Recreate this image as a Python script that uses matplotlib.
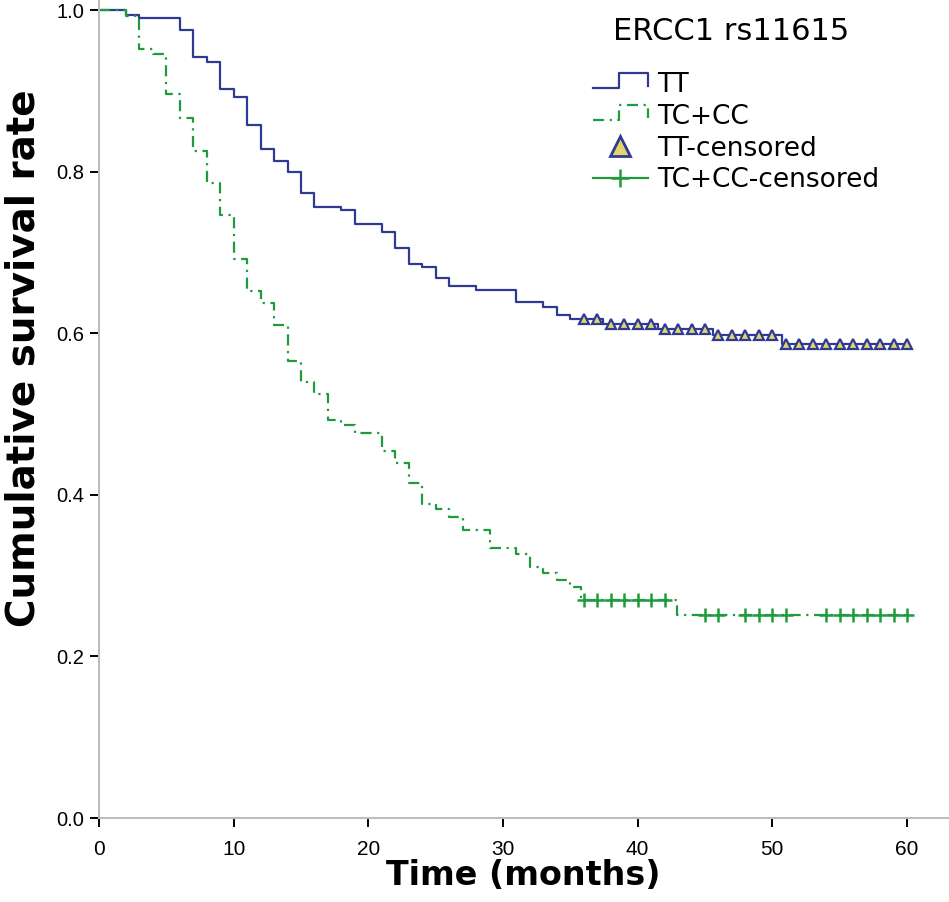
import numpy as np
import matplotlib
matplotlib.use("Agg")
import matplotlib.pyplot as plt
from matplotlib.lines import Line2D
from matplotlib.legend_handler import HandlerBase

# Kaplan-Meier steps (time in months, survival after the step)
tt_times = [0, 2, 3, 6, 7, 8, 9, 10, 11, 12, 13, 14, 15, 16, 18, 19, 21, 22, 23, 24,
            25, 26, 28, 31, 33, 34, 35, 37.4, 41.5, 45.6, 50.7, 60]
tt_surv = [1.0, 0.994, 0.990, 0.975, 0.942, 0.936, 0.902, 0.892, 0.858, 0.828, 0.813,
           0.799, 0.774, 0.756, 0.752, 0.735, 0.725, 0.706, 0.686, 0.682, 0.668, 0.658,
           0.653, 0.638, 0.633, 0.623, 0.618, 0.612, 0.605, 0.598, 0.587, 0.587]
tt_cens_times = list(range(36, 61))

tc_times = [0, 2, 3, 4, 5, 6, 7, 8, 9, 10, 11, 12, 13, 14, 15, 16, 17, 18, 19, 21, 22,
            23, 24, 25, 26, 27, 29, 31, 32, 33, 34, 35, 35.8, 42.9, 60]
tc_surv = [1.0, 0.992, 0.952, 0.946, 0.896, 0.866, 0.826, 0.786, 0.746, 0.692, 0.652,
           0.637, 0.610, 0.565, 0.540, 0.525, 0.493, 0.486, 0.477, 0.454, 0.439, 0.414,
           0.389, 0.382, 0.373, 0.357, 0.334, 0.327, 0.311, 0.303, 0.295, 0.286, 0.270,
           0.251, 0.251]
tc_cens_times = [36, 37, 38, 39, 40, 41, 42, 45, 46, 48, 49, 50, 51, 54, 55, 56, 57,
                 58, 59, 60]

x_ticks = [0, 10, 20, 30, 40, 50, 60]
y_ticks = [0.0, 0.2, 0.4, 0.6, 0.8, 1.0]
series_labels = ["TT", "TC+CC", "TT-censored", "TC+CC-censored"]

blue = "#2E3B95"
green = "#1F9A3C"
dashdot = (0, (5, 2.5, 1, 2.5))


def surv_at(times, surv, t):
    """value of the post-step curve at time t"""
    idx = np.searchsorted(times, t, side="right") - 1
    return surv[idx]


class StepGlyph(HandlerBase):
    # small stair-shaped legend key like the SPSS output
    def create_artists(self, legend, orig_handle, xdescent, ydescent,
                       width, height, fontsize, trans):
        xs = np.array([0.0, 0.47, 0.47, 1.0, 1.0]) * width - xdescent
        ys = np.array([0.23, 0.23, 1.04, 1.04, 0.32]) * height - ydescent
        glyph = Line2D(xs, ys)
        glyph.update_from(orig_handle)
        glyph.set_drawstyle("default")
        glyph.set_marker("")
        glyph.set_transform(trans)
        return [glyph]


fig = plt.figure(figsize=(9.49, 9.02), dpi=100)
ax = fig.add_axes([99 / 949, 84 / 902, 850 / 949, 818 / 902])

tt_line, = ax.step(tt_times, tt_surv, where="post", color=blue, lw=1.6)
tc_line, = ax.step(tc_times, tc_surv, where="post", color=green, lw=1.6,
                   linestyle=dashdot)

tt_cens_y = [surv_at(tt_times, tt_surv, t) for t in tt_cens_times]
tc_cens_y = [surv_at(tc_times, tc_surv, t) for t in tc_cens_times]
ax.plot(tt_cens_times, tt_cens_y, ls="none", marker="^", ms=7.5,
        mfc="#E6D36B", mec=blue, mew=1.6)
ax.plot(tc_cens_times, tc_cens_y, ls="none", marker="+", ms=9.5,
        color=green, mew=1.8)

ax.set_xlim(0, 60 * 850 / 808)
ax.set_ylim(0, 818 / 808)
ax.set_xticks(x_ticks)
ax.set_xticklabels([str(v) for v in x_ticks], family="Liberation Sans", fontsize=15)
ax.set_yticks(y_ticks)
ax.set_yticklabels([f"{v:.1f}" for v in y_ticks], family="Liberation Sans",
                   fontsize=14.5)
ax.tick_params(direction="out", length=6.5, width=1.4, color="black")
ax.tick_params(axis="x", pad=9)
ax.tick_params(axis="y", pad=4)

for side in ("top", "right"):
    ax.spines[side].set_visible(False)
for side in ("left", "bottom"):
    ax.spines[side].set_color("#BDBDBD")
    ax.spines[side].set_linewidth(1.5)

ax.set_xlabel("Time (months)", fontsize=24, fontweight="bold")
ax.set_ylabel("Cumulative survival rate", fontsize=28, fontweight="bold")
ax.xaxis.set_label_coords(0.499, -0.050)
ax.yaxis.set_label_coords(-0.067, 0.562)

ax.text((613 - 99) / 850, (818 - 40) / 818, "ERCC1 rs11615", transform=ax.transAxes,
        fontsize=22, ha="left", va="baseline")

tt_key = Line2D([], [], ls="none", marker="^", ms=14, mfc="#E6D36B", mec=blue, mew=2)
tc_key = Line2D([], [], ls="-", marker="+", ms=13, color=green, lw=1.6, mew=1.8)
ax.legend([tt_line, tc_line, tt_key, tc_key], series_labels,
          handler_map={tt_line: StepGlyph(), tc_line: StepGlyph()},
          loc="upper left", bbox_to_anchor=((593 - 99) / 850, (818 - 72) / 818),
          frameon=False, fontsize=19, handlelength=2.08, handletextpad=0.34,
          labelspacing=0.22, borderpad=0, borderaxespad=0, numpoints=1)

fig.savefig("out.png", dpi=100)
